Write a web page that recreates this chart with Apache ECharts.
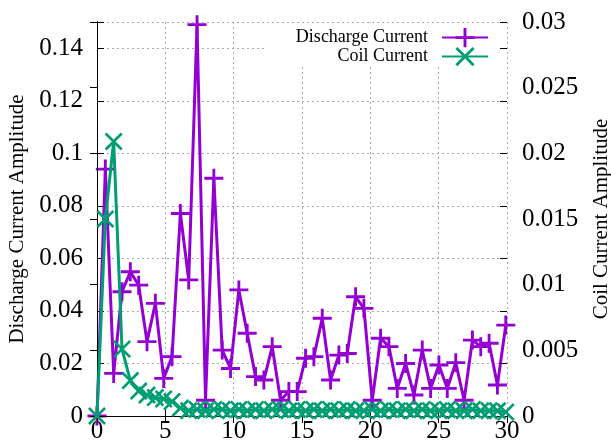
<!DOCTYPE html>
<html>
<head>
<meta charset="utf-8">
<script src="https://cdn.jsdelivr.net/npm/echarts@6/dist/echarts.min.js"></script>
<style>
  html, body { margin: 0; padding: 0; background: #fff; }
  #chart { width: 611px; height: 444px; }
</style>
</head>
<body>
<div id="chart"></div>
<script>
// Frequency bins of the spectrum
const freq = [0, 0.61, 1.22, 1.83, 2.44, 3.05, 3.66, 4.27, 4.88, 5.49,
  6.10, 6.71, 7.32, 7.94, 8.55, 9.16, 9.77, 10.38, 10.99, 11.60,
  12.21, 12.82, 13.43, 14.04, 14.65, 15.26, 15.87, 16.48, 17.09, 17.70,
  18.31, 18.92, 19.53, 20.14, 20.75, 21.36, 21.97, 22.58, 23.19, 23.80,
  24.41, 25.02, 25.63, 26.25, 26.86, 27.47, 28.08, 28.69, 29.30, 29.91];

// Discharge current spectrum amplitude (left axis)
const dischargeAmp = [0, 0.094, 0.0162, 0.0473, 0.0549, 0.0498, 0.0283, 0.0429, 0.0143, 0.0226,
  0.0771, 0.0518, 0.149, 0.006, 0.0905, 0.0251, 0.0181, 0.048, 0.0315, 0.015,
  0.0137, 0.0264, 0.006, 0.0093, 0.0093, 0.022, 0.0226, 0.0372, 0.0137, 0.0232,
  0.0238, 0.0454, 0.041, 0.006, 0.0296, 0.0264, 0.0105, 0.020, 0.008, 0.0251,
  0.0105, 0.0194, 0.0105, 0.0203, 0.006, 0.0289, 0.0264, 0.0277, 0.0118, 0.0346];

// Coil current spectrum amplitude (right axis)
const coilAmp = [0, 0.0150, 0.0209, 0.0051, 0.0027, 0.0019, 0.0016, 0.0014, 0.0013, 0.0011,
  0.0006, 0.0004, 0.0005, 0.0004, 0.0005, 0.0005, 0.0004, 0.0005, 0.0004, 0.0005,
  0.0004, 0.0005, 0.0005, 0.0004, 0.0005, 0.0004, 0.0005, 0.0004, 0.0005, 0.0004,
  0.0005, 0.0004, 0.0004, 0.0005, 0.0004, 0.0005, 0.0004, 0.0005, 0.0004, 0.0005,
  0.0004, 0.0004, 0.0005, 0.0004, 0.0004, 0.0005, 0.0004, 0.0004, 0.0004, 0.0003];

const seriesNames = ['Discharge Current', 'Coil Current'];
const axisTitles = ['Discharge Current Amplitude', 'Coil Current Amplitude'];

// Axis ranges and tick steps
const xRange = [0, 30], xStep = 5;
const leftRange = [0, 0.15], leftStep = 0.02;
const rightRange = [0, 0.03], rightStep = 0.005;

const FONT = 'Liberation Serif';
const PURPLE = '#9400d3';
const GREEN = '#009e73';

// Marker shapes: a plus and a diagonal cross
const PLUS = 'path://M8.5,0H11.5V8.5H20V11.5H11.5V20H8.5V11.5H0V8.5H8.5Z';
const CROSS = 'path://M0,2.1L2.1,0L10,7.9L17.9,0L20,2.1L12.1,10L20,17.9L17.9,20L10,12.1L2.1,20L0,17.9L7.9,10Z';

const pairs = (xs, ys) => xs.map((x, i) => [x, ys[i]]);

const chart = echarts.init(document.getElementById('chart'), null, { renderer: 'canvas' });

const tickStyle = { show: true, inside: true, length: 7, lineStyle: { color: '#000', width: 1 } };
const lineStyle = { show: true, lineStyle: { color: '#000', width: 1 } };

chart.setOption({
  animation: false,
  backgroundColor: '#fff',
  textStyle: { fontFamily: FONT },
  grid: { left: 97, right: 104, top: 22, bottom: 28, containLabel: false, outerBoundsMode: 'none' },
  graphic: [{
    // opaque key box over the grid lines
    type: 'rect', z: 1,
    shape: { x: 264, y: 23, width: 242, height: 44 },
    style: { fill: '#fff' }
  }],
  legend: [
    {
      data: [seriesNames[0]], right: 122, top: 28, padding: 0,
      align: 'right', itemWidth: 46, itemHeight: 24, selectedMode: false,
      textStyle: { fontFamily: FONT, fontSize: 18, color: '#000', padding: [0, 9, 0, 0] }
    },
    {
      data: [seriesNames[1]], right: 122, top: 47, padding: 0,
      align: 'right', itemWidth: 46, itemHeight: 24, selectedMode: false,
      textStyle: { fontFamily: FONT, fontSize: 18, color: '#000', padding: [0, 9, 0, 0] }
    }
  ],
  xAxis: [
    {
      type: 'value', position: 'bottom', min: xRange[0], max: xRange[1], interval: xStep,
      axisLine: lineStyle, axisTick: tickStyle,
      axisLabel: { fontFamily: FONT, fontSize: 25, color: '#000', margin: 3 },
      splitLine: { show: true, lineStyle: { color: '#aaa', width: 1, type: [2, 3] } }
    },
    {
      type: 'value', position: 'top', min: xRange[0], max: xRange[1], interval: xStep, z: 3,
      axisLine: lineStyle, axisTick: tickStyle, axisLabel: { show: false }, splitLine: { show: false }
    }
  ],
  yAxis: [
    {
      type: 'value', position: 'left', min: leftRange[0], max: leftRange[1], interval: leftStep,
      axisLine: lineStyle, axisTick: tickStyle,
      axisLabel: {
        fontFamily: FONT, fontSize: 25, color: '#000', margin: 14,
        formatter: v => (v > 0.145 ? '' : String(+v.toFixed(3)))
      },
      splitLine: { show: true, lineStyle: { color: '#aaa', width: 1, type: [2, 3] } },
      name: axisTitles[0], nameLocation: 'middle', nameGap: 64, nameRotate: 90,
      nameTextStyle: { fontFamily: FONT, fontSize: 21, color: '#000' }
    },
    {
      type: 'value', position: 'right', min: rightRange[0], max: rightRange[1], interval: rightStep, z: 3,
      axisLine: lineStyle, axisTick: tickStyle,
      axisLabel: {
        fontFamily: FONT, fontSize: 25, color: '#000', margin: 15,
        formatter: v => String(+v.toFixed(4))
      },
      splitLine: { show: false },
      name: axisTitles[1], nameLocation: 'middle', nameGap: 84, nameRotate: 90,
      nameTextStyle: { fontFamily: FONT, fontSize: 21, color: '#000' }
    },
    {
      // left-axis ticks mirrored on the right border
      type: 'value', position: 'right', min: leftRange[0], max: leftRange[1], interval: leftStep, z: 3,
      axisLine: { show: false }, axisTick: tickStyle, axisLabel: { show: false }, splitLine: { show: false }
    }
  ],
  series: [
    {
      name: seriesNames[0], type: 'line', xAxisIndex: 0, yAxisIndex: 0,
      data: pairs(freq, dischargeAmp),
      symbol: PLUS, symbolSize: 19, showAllSymbol: true,
      lineStyle: { color: PURPLE, width: 3 },
      itemStyle: { color: PURPLE },
      z: 2
    },
    {
      name: seriesNames[1], type: 'line', xAxisIndex: 0, yAxisIndex: 1,
      data: pairs(freq, coilAmp),
      symbol: CROSS, symbolSize: 18, showAllSymbol: true,
      lineStyle: { color: GREEN, width: 3 },
      itemStyle: { color: GREEN },
      z: 3
    }
  ]
});
</script>
</body>
</html>
